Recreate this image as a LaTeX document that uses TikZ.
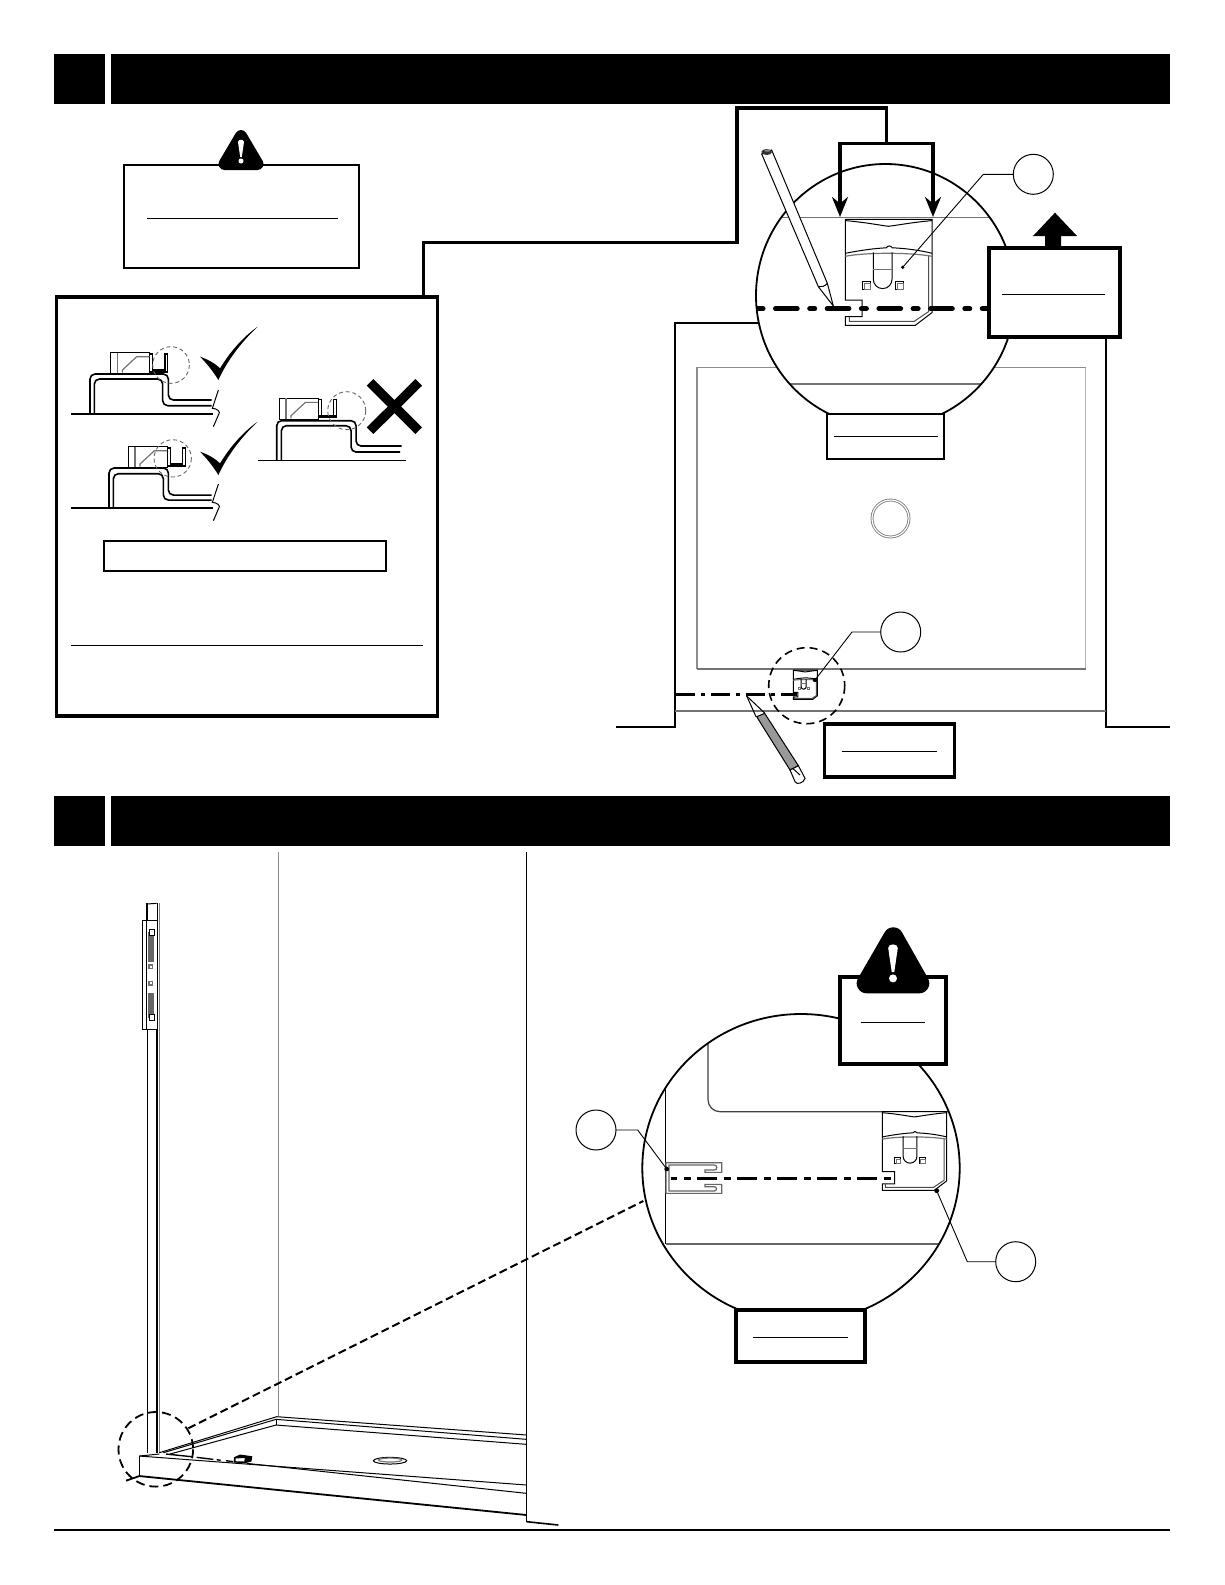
\documentclass[tikz,border=0pt]{standalone}
\usetikzlibrary{arrows.meta}
\tikzset{
  headbox/.style={fill=black,draw=none,inner sep=0pt,outer sep=0pt,minimum height=25pt},
  labelbox/.style={draw=black,fill=white,line width=1.9pt,inner sep=0pt,outer sep=0pt},
  tagcircle/.style={circle,draw=black,fill=white,line width=.5pt,inner sep=0pt,outer sep=0pt,minimum size=20pt},
  thinline/.style={draw=black,line width=.5pt},
  grayline/.style={draw=black!55,line width=.6pt},
  wallline/.style={draw=black,line width=.8pt},
  leaderline/.style={draw=black,line width=.45pt},
  bigarrow/.style={draw=black,line width=1.75pt,-{Stealth[length=10pt,width=8pt]}},
  dashring/.style={draw=black,line width=.9pt,dash pattern=on 4.5pt off 2.5pt},
  paledashring/.style={draw=black!60,line width=.45pt,dash pattern=on 2pt off 1.4pt},
  warnmark/.pic={
    \fill[white] (-3,0) .. controls (-3,-3) and (3,-3) .. (3,0) -- (.8,15) -- (-.8,15) -- cycle;
    \fill[white] (0,19) circle (2.5);
  },
  catchbracket/.pic={
    \draw[thinline,fill=white] (0,0) -- (86.7,0) -- (86.7,93.3) -- (70,106) -- (0,106) -- (0,97.3) -- (16.7,97.3) -- (16.7,80.7) -- (0,80.7) -- cycle;
    \draw[thinline,black!70] (83.3,36.7) -- (83.3,92.3) -- (69,102) -- (4,102) -- (4,97.3);
    \draw[thinline] (0,1.3) .. controls (20,3) and (35,6) .. (43,7) .. controls (52,6) and (67,3) .. (86.7,1.3);
    \draw[thinline] (0,34) .. controls (15,31) and (30,29) .. (41,28.5) .. controls (43,26) and (45,26) .. (47,28.5) .. controls (60,29) and (75,31) .. (86.7,34);
    \draw[grayline] (0,37) .. controls (20,33) and (65,33) .. (86.7,37);
    \draw[thinline] (28,33) -- (28,60) arc[start angle=180,end angle=360,x radius=9.35,y radius=-9.3] -- (46.7,33);
    \draw[grayline] (28,50) -- (46.7,50);
    \draw[thinline] (17,62) rectangle (25,70);
    \draw[grayline] (19,64) rectangle (25,70);
    \draw[thinline] (50,62) rectangle (58,70);
    \draw[grayline] (52,64) rectangle (58,70);
  },
  profileblock/.pic={
    \draw[thinline,fill=white] (0,0) rectangle (116,62);
    \draw[grayline] (20,0) -- (20,62);
    \draw[grayline] (35,60) -- (35,52) -- (78,12) -- (116,12);
    \draw[thinline,line width=.7pt] (116,4) -- (126,4) -- (126,52) -- (163,52) -- (163,4) -- (171,4) -- (171,58) -- (116,58);
  },
  checkmark/.pic={
    \fill[black] (480,230) .. controls (510,240) and (530,255) .. (540,265) .. controls (570,215) and (610,170) .. (653,140) .. controls (600,190) and (560,245) .. (535,300) .. controls (520,275) and (500,250) .. cycle;
  },
  breakmark/.pic={
    \draw[thinline] (535,330) -- (517,385) .. controls (530,385) and (545,395) .. (535,405) -- (520,440);
  }
}
\begin{document}
\begin{tikzpicture}[x=.5pt,y=-.5pt]
  \useasboundingbox (0,0) rectangle (1225,1585);
  \fill[white] (0,0) rectangle (1225,1585);

  \node[headbox,minimum width=25.5pt] (headsmalla) at (79.5,79) {};
  \node[headbox,minimum width=529.5pt] (headlonga) at (640.5,79) {};
  \node[headbox,minimum width=25.5pt] (headsmallb) at (79.5,821) {};
  \node[headbox,minimum width=529.5pt] (headlongb) at (640.5,821) {};

  \node[labelbox,line width=1pt,minimum width=117.5pt,minimum height=51.5pt] (warnbox) at (241.5,216) {};
  \draw[thinline] (147,218) -- (338,218);
  \filldraw[line width=6pt,line join=round] (241,136) -- (257.5,164) -- (224.5,164) -- cycle;
  \pic at (241,142) {warnmark};

  \node[labelbox,minimum width=190.5pt,minimum height=209.5pt] (insetbox) at (247,506.7) {};
  \node[labelbox,line width=1pt,minimum width=141pt,minimum height=15pt] (insetnote) at (245,556) {};
  \draw[thinline] (70.7,645.3) -- (423.3,645.3);

  \begin{scope}[shift={(40,280)},x=.1667pt,y=-.1667pt]
    \draw[wallline] (92,402) -- (520,402);
    \draw[line width=.8pt,rounded corners=2.5pt] (150,400) -- (150,282) -- (385,282) -- (385,360) -- (515,360);
    \draw[line width=.8pt,rounded corners=2.5pt] (163,400) -- (163,297) -- (368,297) -- (368,377) -- (515,377);
    \pic at (212,218) {profileblock};
    \draw[paledashring] (393,255) circle (55);
    \pic {breakmark};
    \pic {checkmark};

    \draw[wallline] (92,684) -- (520,684);
    \draw[line width=.8pt,rounded corners=2.5pt] (207,682) -- (207,564) -- (385,564) -- (385,645) -- (515,645);
    \draw[line width=.8pt,rounded corners=2.5pt] (220,682) -- (220,581) -- (370,581) -- (370,660) -- (515,660);
    \pic at (265,500) {profileblock};
    \draw[paledashring] (398,535) circle (56);
    \pic at (0,282) {breakmark};
    \pic at (0,285) {checkmark};

    \draw[thinline] (655,541) -- (1097,541);
    \draw[line width=.8pt,rounded corners=2.5pt] (710,540) -- (710,422) -- (948,422) -- (948,498) -- (1085,498);
    \draw[line width=.8pt,rounded corners=2.5pt] (724,540) -- (724,437) -- (933,437) -- (933,516) -- (1080,516);
    \pic at (718,355) {profileblock};
    \draw[thinline,line width=.8pt] (835,408) -- (892,408);
    \draw[paledashring] (920,392) circle (57);
    \draw[line width=4.7pt] (990,307) -- (1136,452);
    \draw[line width=4.7pt] (1136,307) -- (990,452);
  \end{scope}

  \draw[wallline] (616,726.7) -- (675,726.7) -- (675,323) -- (760,323);
  \draw[wallline] (1106,330) -- (1106,726.7) -- (1170,726.7);
  \draw[draw=black!45,line width=.6pt] (697,669) -- (697,367.7) -- (1085.7,367.7);
  \draw[draw=black!30,line width=.6pt] (1085.7,367.7) -- (1085.7,669);
  \draw[grayline] (697,669) -- (1085.7,669);
  \draw[grayline] (675,711) -- (1106,711);
  \draw[draw=black!55,line width=.4pt,double=white,double distance=.6pt] (890.5,518.5) circle (18.5);

  \pic[scale=.277] at (793.3,670) {catchbracket};
  \draw[draw=black,line width=1.5pt,dash pattern=on 9.5pt off 3pt on 2pt off 3pt] (676,694.7) -- (797,694.7);
  \draw[dashring,line width=.8pt,dash pattern=on 4pt off 2.5pt] (806.7,685.7) circle (38);
  \begin{scope}[shift={(600,600)},x=.1667pt,y=-.1667pt]
    \draw[thinline] (440,288) -- (468,350);
    \draw[thinline] (440,288) -- (495,340);
    \draw[thinline,fill=black!40] (470,350) -- (494,340) -- (595,497) -- (570,510) -- cycle;
    \draw[thinline,fill=white] (570,510) -- (595,497) -- (615,535) .. controls (610,550) and (590,555) .. (585,545) -- cycle;
    \draw[thinline] (578,505) -- (600,525);
  \end{scope}
  \fill (815,680) circle (2.2);
  \coordinate (smalldot) at (815,680);
  \coordinate (smallbend) at (852,632);
  \node[tagcircle] (tagsmall) at (900.7,632) {};
  \draw[leaderline] (tagsmall.west) -- (smallbend) -- (smalldot);
  \node[labelbox,minimum width=65pt,minimum height=26.2pt] (notesmall) at (889.5,750.5) {};
  \draw[thinline] (841.7,751.3) -- (936.7,751.3);

  \fill[white] (885.5,295.5) ellipse (129.5 and 131.5);
  \begin{scope}
    \clip (885.5,295.5) ellipse (129.5 and 131.5);
    \draw[grayline] (780,217.3) -- (995,217.3);
    \draw[grayline] (780,384) -- (995,384);
    \pic at (845.3,219.3) {catchbracket};
    \draw[draw=black,line width=2.5pt,line cap=round,dash pattern=on 2.5pt off 6.25pt on 10.85pt off 6.25pt] (758,308.7) -- (990,308.7);
  \end{scope}
  \draw[line width=.9pt] (885.5,295.5) ellipse (129.5 and 131.5);
  \begin{scope}[shift={(730,130)},x=.1667pt,y=-.1667pt]
    \draw[thinline,fill=white] (95,72) -- (125,60) -- (292,460) -- (310,528) -- (265,470) -- cycle;
    \draw[thinline] (265,470) .. controls (275,472) and (285,468) .. (292,460);
    \fill[black!80] (110,66) ellipse (16 and 9);
    \fill[black!45] (112,62) ellipse (9 and 3);
    \fill (310,528) circle (2);
  \end{scope}
  \fill (902.7,267.3) circle (1.8);
  \coordinate (bigdot) at (902.7,267.3);
  \coordinate (bigbend) at (983.3,174.3);
  \node[tagcircle] (tagbig) at (1033.3,174.3) {};
  \draw[leaderline] (tagbig.west) -- (bigbend) -- (bigdot);

  \node[labelbox,line width=1pt,minimum width=58.8pt,minimum height=22.5pt] (notedown) at (885.5,436.5) {};
  \draw[thinline] (834,436) -- (938,436);
  \node[labelbox,minimum width=65.5pt,minimum height=44.2pt] (noteup) at (1054.8,292.5) {};
  \draw[thinline] (1002,294.3) -- (1105,294.3);
  \fill (1045,248) -- (1045,236) -- (1033,236) -- (1055,212.7) -- (1077,236) -- (1061,236) -- (1061,248) -- cycle;

  \coordinate (leadfoot) at (423.5,296);
  \coordinate (branchtop) at (886.7,143.3);
  \coordinate (branchl) at (840,143.3);
  \coordinate (branchr) at (933,143.3);
  \draw[line width=1.75pt] (leadfoot) -- (423.5,242.5) -- (737,242.5) -- (737,108) -- (886.7,108) -- (branchtop);
  \draw[bigarrow] (branchtop) -- (branchl) -- (840,217);
  \draw[bigarrow] (branchtop) -- (branchr) -- (933,217);

  \draw[draw=black!45,line width=.5pt] (278,852) -- (278,1416);
  \draw[wallline,line width=.6pt] (526.7,852) -- (526.7,1521.7);
  \draw[line width=.8pt] (526.7,1521.7) -- (558.3,1525);
  \begin{scope}[shift={(120,890)},x=.1667pt,y=-.1667pt]
    \draw[thinline] (80,42) -- (110,40);
    \draw[thinline,fill=white] (68,92) -- (113,92) -- (113,417) -- (68,417) -- cycle;
    \draw[thinline] (80,92) -- (80,417);
    \fill[black!60] (85,125) rectangle (101,215);
    \fill[black!60] (85,310) rectangle (101,385);
    \draw[thinline,fill=white] (87,118) rectangle (104,136);
    \draw[thinline,fill=white] (87,372) rectangle (104,390);
    \draw[grayline] (87,225) rectangle (97,235);
    \draw[grayline] (87,275) rectangle (97,285);
  \end{scope}
  \draw[thinline,line width=.7pt] (147,903) -- (147,921);
  \draw[thinline,line width=.7pt] (157.3,903) -- (157.3,921);
  \draw[thinline,line width=.7pt] (147.7,1029) -- (147.7,1453);
  \draw[thinline,line width=.7pt] (157,1029) -- (157,1453);
  \draw[draw=black!50,line width=.8pt] (159.3,903) -- (159.3,1453);

  \begin{scope}[shift={(100,1380)},x=.1667pt,y=-.1667pt]
    \draw[thinline] (178,218) -- (530,110) -- (1280,165);
    \draw[thinline] (190,218) -- (528,118) -- (1280,178);
    \draw[thinline] (210,222) -- (528,135) -- (1280,193);
    \draw[thinline] (528,118) -- (528,135);
    \draw[thinline] (118,228) -- (178,222);
    \draw[thinline] (118,228) -- (1280,315);
    \draw[thinline] (118,228) -- (118,288);
    \draw[thinline] (440,250) -- (1280,340);
    \draw[line width=.9pt] (78,302) -- (118,288) -- (1280,405);
    \draw[thinline] (870,242) ellipse (50 and 10);
    \draw[grayline] (870,240) ellipse (35 and 6);
    \draw[line width=.7pt] (198,222) -- (275,230);
    \draw[line width=.7pt] (290,232) -- (340,238);
    \draw[line width=.7pt] (350,239) -- (362,241);
    \draw[line width=.7pt] (378,242) -- (400,245);
    \draw[thinline,fill=black] (420,225) -- (455,230) -- (453,243) -- (435,248) -- (403,246) -- (403,233) -- cycle;
    \draw[thinline,fill=white] (405,234) -- (436,232) -- (434,246) -- (405,245) -- cycle;
  \end{scope}
  \draw[dashring] (155.8,1449.3) circle (37.3);
  \coordinate (rearfoot) at (188.3,1428.3);
  \coordinate (zoomfoot) at (643.3,1201);
  \draw[draw=black,line width=1pt,dash pattern=on 4pt off 2pt] (rearfoot) -- (zoomfoot);

  \fill[white] (801,1168) ellipse (158.7 and 154);
  \begin{scope}
    \clip (801,1168) ellipse (158.7 and 154);
    \draw[draw=black,line width=.6pt] (665.7,1000) -- (665.7,1244);
    \draw[draw=black!60,line width=.8pt] (665.7,1244) -- (960,1244);
    \draw[draw=black!75,line width=.6pt,rounded corners=6pt] (708,1000) -- (708,1111.7) -- (960,1111.7);
    \begin{scope}[shift={(655,1140)},x=.1667pt,y=-.1667pt]
      \draw[draw=black!60,line width=.6pt] (33,68) -- (200,68) -- (200,97) -- (150,97) -- (150,90) -- (178,90) arc[start angle=90,end angle=-90,radius=7.5] -- (42,75) -- (42,153) -- (178,153) arc[start angle=90,end angle=-90,radius=6.5] -- (150,140) -- (150,133) -- (200,133) -- (200,160) -- (33,160) -- cycle;
    \end{scope}
    \pic[scale=.742] at (882.3,1111.7) {catchbracket};
    \draw[draw=black,line width=1.5pt,dash pattern=on 10pt off 3.75pt on 3.35pt off 2.9pt,dash phase=7pt] (670.7,1178.3) -- (893.3,1178.3);
  \end{scope}
  \draw[line width=.9pt] (801,1168) ellipse (158.7 and 154);

  \fill (666.7,1169) circle (2.4);
  \coordinate (leftdot) at (666.7,1169);
  \coordinate (leftbend) at (637.7,1130);
  \node[tagcircle] (tagleft) at (596,1130) {};
  \draw[leaderline] (tagleft.east) -- (leftbend) -- (leftdot);
  \fill (936.7,1190.7) circle (2.4);
  \coordinate (rightdot) at (936.7,1190.7);
  \coordinate (rightbend) at (967.3,1261.7);
  \node[tagcircle] (tagright) at (1015.7,1261.7) {};
  \draw[leaderline] (tagright.west) -- (rightbend) -- (rightdot);

  \node[labelbox,minimum width=53pt,minimum height=43.7pt] (warnlow) at (893,1020.3) {};
  \draw[thinline] (860.7,1022.3) -- (924.7,1022.3);
  \filldraw[line width=10pt,line join=round] (893.3,937.3) -- (919.3,983.3) -- (866.7,983.3) -- cycle;
  \pic[scale=1.6] at (893,948) {warnmark};
  \node[labelbox,minimum width=64.5pt,minimum height=25.85pt] (notelow) at (800.5,1335.8) {};
  \draw[thinline] (753.3,1337.3) -- (848,1337.3);

  \draw[line width=.7pt] (54,1530) -- (1170,1530);
\end{tikzpicture}
\end{document}
